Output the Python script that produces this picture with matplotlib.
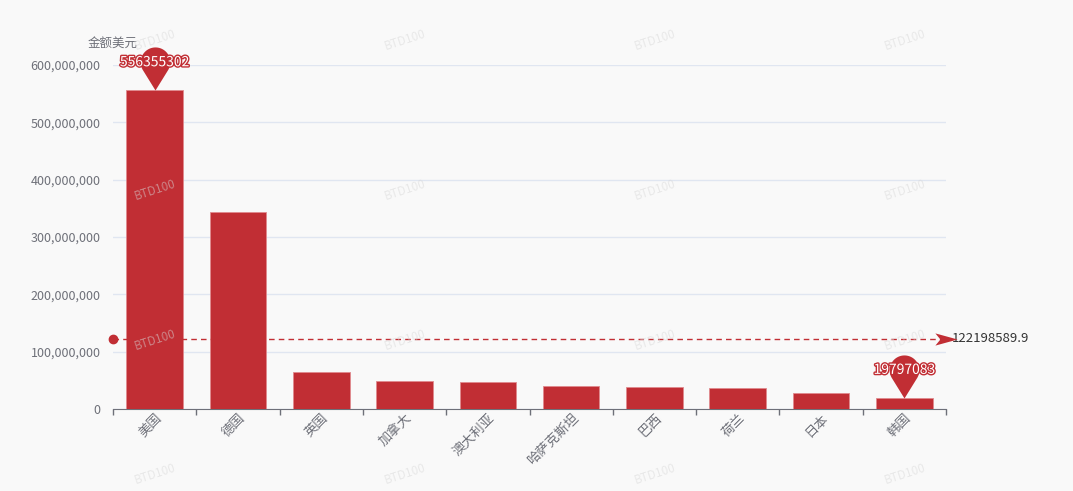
import numpy as np
import matplotlib
matplotlib.use('Agg')
import matplotlib.pyplot as plt
from matplotlib.path import Path
from matplotlib.ticker import FuncFormatter, FixedLocator
from matplotlib.transforms import ScaledTranslation
import matplotlib.patheffects as pe

plt.rcParams['font.family'] = ['Noto Sans CJK SC', 'DejaVu Sans']

# data
countries = ['美国', '德国', '英国', '加拿大', '澳大利亚', '哈萨克斯坦', '巴西', '荷兰', '日本', '韩国']
amounts = [556355302, 344433514, 64000000, 48000000, 46800000, 40000000, 38400000, 36400000, 27800000, 19797083]
y_name = '金额美元'
y_ticks = [0, 100000000, 200000000, 300000000, 400000000, 500000000, 600000000]

BAR = '#c12e34'
TXT = '#6e7079'
BG = '#f9f9f9'


def pin_path():
    r, c = 1.0, 1.9
    a = np.degrees(np.arccos(r / c))
    t0, t1 = -90 + a, 270 - a
    th = np.radians(np.linspace(t0, t1, 60))
    verts = [(0, 0)] + [(r * np.cos(t), c + r * np.sin(t)) for t in th] + [(0, 0)]
    codes = [Path.MOVETO] + [Path.LINETO] * (len(verts) - 2) + [Path.CLOSEPOLY]
    return Path(verts, codes)


def arrow_path():
    verts = [(1, 0), (-1, 0.55), (-0.55, 0), (-1, -0.55), (1, 0)]
    codes = [Path.MOVETO, Path.LINETO, Path.LINETO, Path.LINETO, Path.CLOSEPOLY]
    return Path(verts, codes)


fig = plt.figure(figsize=(10.73, 4.91), dpi=100, facecolor=BG)
ax = fig.add_axes([113 / 1073, 82 / 491, 833 / 1073, 344 / 491])
ax.set_facecolor(BG)

x = np.arange(len(countries))
ax.bar(x, amounts, width=0.68, color=BAR, edgecolor='#e08a8e', linewidth=0.6, zorder=3)

ax.set_xlim(-0.5, len(countries) - 0.5)
ax.set_ylim(0, 600000000)
ax.set_yticks(y_ticks)
ax.yaxis.set_major_formatter(FuncFormatter(lambda v, p: '{:,}'.format(int(v))))
ax.grid(axis='y', color='#e0e6f1', linewidth=1, zorder=0)
ax.tick_params(axis='y', length=0, pad=9, labelsize=9, labelcolor=TXT)

ax.set_xticks(x)
ax.set_xticklabels(countries, rotation=45, ha='right', va='center', rotation_mode='anchor')
ax.xaxis.set_minor_locator(FixedLocator(np.arange(-0.5, len(countries), 1.0)))
ax.tick_params(axis='x', which='major', length=0, pad=5, labelsize=9.5, labelcolor=TXT)
ax.tick_params(axis='x', which='minor', length=4, color=TXT, width=1)
shift = ScaledTranslation(5 / 100, 0, fig.dpi_scale_trans)
for lbl in ax.get_xticklabels():
    lbl.set_transform(lbl.get_transform() + shift)

for s in ['top', 'right', 'left']:
    ax.spines[s].set_visible(False)
ax.spines['bottom'].set_color(TXT)

ax.text(0, 1.064, y_name, transform=ax.transAxes, ha='center', va='center', fontsize=9, color=TXT)

# mark points (max / min)
pin = pin_path()
for i in [int(np.argmax(amounts)), int(np.argmin(amounts))]:
    ax.plot(x[i], amounts[i], marker=pin, markersize=62, color=BAR, markeredgewidth=0,
            clip_on=False, zorder=5)
    ax.annotate(str(amounts[i]), (x[i], amounts[i]), xytext=(0, 20), textcoords='offset points',
                ha='center', va='center', fontsize=10, color='white', zorder=6,
                path_effects=[pe.withStroke(linewidth=2, foreground=BAR)])

# mean line
mean_val = float(np.mean(amounts))
ax.plot([-0.5, len(countries) - 0.5], [mean_val, mean_val], color=BAR, linewidth=1,
        dashes=(4, 3), clip_on=False, zorder=4)
ax.plot(-0.5, mean_val, marker='o', markersize=6, color=BAR, clip_on=False, zorder=4)
ax.plot(len(countries) - 0.5, mean_val, marker=arrow_path(), markersize=16, color=BAR,
        markeredgewidth=0, clip_on=False, zorder=4)
ax.annotate('{:.1f}'.format(mean_val), (len(countries) - 0.5, mean_val), xytext=(4, 0),
            textcoords='offset points', ha='left', va='center', fontsize=9.5, color='#333333')

# watermark
for wx in [155, 405, 655, 905]:
    for wy in [40, 190, 340, 474]:
        fig.text(wx / 1073, 1 - wy / 491, 'BTD100', fontsize=8.5, color='#d8d8d8', alpha=0.5,
                 rotation=18, ha='center', va='center', zorder=10)

fig.savefig('out.png', dpi=100, facecolor=BG)
